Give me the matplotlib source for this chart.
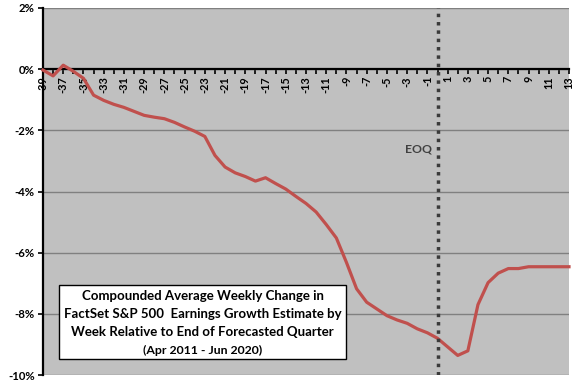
import matplotlib
matplotlib.use("Agg")
import matplotlib.pyplot as plt
from matplotlib.patches import Rectangle

# ---- data ----
weeks = list(range(-39, 14))
avg_change = [
    -0.03, -0.22, 0.13, -0.07, -0.30, -0.85, -1.02, -1.15, -1.25, -1.38,
    -1.51, -1.57, -1.62, -1.74, -1.89, -2.03, -2.20, -2.82, -3.20, -3.39,
    -3.51, -3.66, -3.55, -3.74, -3.92, -4.16, -4.39, -4.67, -5.08, -5.52,
    -6.32, -7.18, -7.62, -7.84, -8.06, -8.20, -8.31, -8.49, -8.62, -8.80,
    -9.08, -9.36, -9.21, -7.70, -6.98, -6.67, -6.52, -6.52, -6.46, -6.46,
    -6.46, -6.46, -6.46,
]
y_ticks = [2, 0, -2, -4, -6, -8, -10]
y_tick_labels = ["2%", "0%", "-2%", "-4%", "-6%", "-8%", "-10%"]
x_tick_labels = [str(w) if w % 2 != 0 else "" for w in weeks]
eoq_week = 0
title_lines = [
    "Compounded Average Weekly Change in",
    "FactSet S&P 500  Earnings Growth Estimate by",
    "Week Relative to End of Forecasted Quarter",
]
subtitle = "(Apr 2011 - Jun 2020)"

W, H = 576, 384
fig = plt.figure(figsize=(W / 100, H / 100), dpi=100)
fig.patch.set_facecolor("white")
left, right, top, bottom = 43, 569, 8, 375
ax = fig.add_axes([left / W, 1 - bottom / H, (right - left) / W, (bottom - top) / H])
ax.set_facecolor("#C0C0C0")

ax.set_xlim(weeks[0], weeks[-1])
ax.set_ylim(-10, 2)

# grid
ax.set_yticks(y_ticks)
ax.set_yticklabels(y_tick_labels)
ax.yaxis.grid(True, color="#808080", linewidth=1.0)
ax.set_axisbelow(True)

for s in ["top", "right"]:
    ax.spines[s].set_visible(False)
ax.spines["left"].set_color("black")
ax.spines["left"].set_linewidth(1.6)
ax.spines["bottom"].set_position(("data", 0))
ax.spines["bottom"].set_color("black")
ax.spines["bottom"].set_linewidth(1.6)
ax.spines["bottom"].set_zorder(3)

ax.set_xticks(weeks)
ax.set_xticklabels(x_tick_labels, rotation=90, va="top", ha="center")
ax.tick_params(axis="x", direction="out", length=3.5, width=1.2, pad=1.5,
               labelsize=7.8, colors="black")
ax.tick_params(axis="y", direction="out", length=3.5, width=1.2, pad=2.5,
               labelsize=8.2)
for lab in ax.get_xticklabels() + ax.get_yticklabels():
    lab.set_family("Lato")
    lab.set_fontweight("bold")

# line
ax.plot(weeks, avg_change, color="#C0504D", linewidth=2.3, zorder=4,
        solid_joinstyle="round", clip_on=False)

# EOQ line
ax.axvline(eoq_week, color="#3A3A3A", linewidth=2.5, linestyle=(0, (1, 1.4)),
           dash_capstyle="butt", zorder=5)
ax.text(eoq_week - 0.55, -2.6, "EOQ", ha="right", va="center",
        color="#404040", fontsize=8.8, fontweight="bold", family="Lato")

# title box
bx0, bx1 = (59 - left) / (right - left), (346 - left) / (right - left)
by0, by1 = (bottom - 359) / (bottom - top), (bottom - 285) / (bottom - top)
ax.add_patch(Rectangle((bx0, by0), bx1 - bx0, by1 - by0, transform=ax.transAxes,
                       facecolor="white", edgecolor="black", linewidth=1.0,
                       zorder=6))
cx = ((59 + 346) / 2 - left) / (right - left)
line_y = [296.5, 314.5, 332.5]
for t, yy in zip(title_lines, line_y):
    ax.text(cx, (bottom - yy) / (bottom - top), t, transform=ax.transAxes,
            ha="center", va="center", fontsize=9.5, fontweight="bold",
            family="Lato", color="black", zorder=7)
ax.text(cx, (bottom - 350) / (bottom - top), subtitle, transform=ax.transAxes,
        ha="center", va="center", fontsize=8.8, fontweight="bold",
        family="Lato", color="black", zorder=7)

fig.savefig("out.png", dpi=100)
